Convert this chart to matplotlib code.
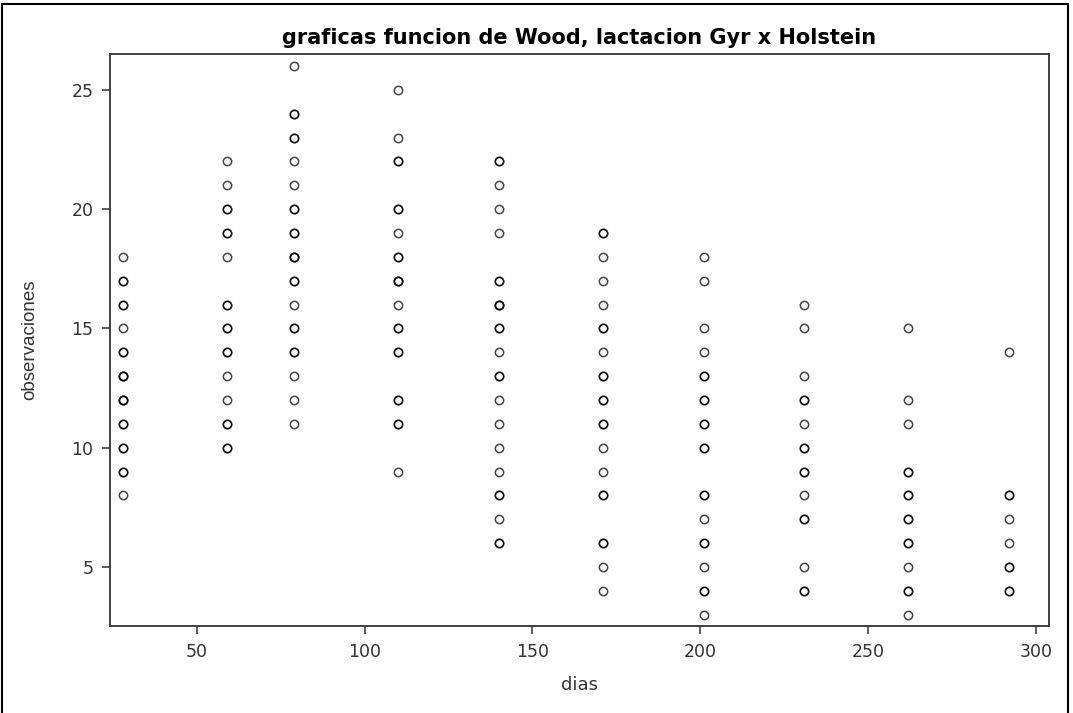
import matplotlib.pyplot as plt
from matplotlib.patches import Rectangle

plt.rcParams['font.family'] = ['DejaVu Sans']

# dias de lactacion de cada control
dias = [28, 59, 79, 110, 140, 171, 201, 231, 262, 292]

# observaciones por control (valores repetidos se ven mas oscuros)
obs = [
    [18, 17, 17, 16, 16, 15, 14, 14, 13, 13, 13, 12, 12, 12, 11, 11, 10, 10, 9, 9, 8],
    [22, 21, 20, 20, 19, 19, 18, 16, 16, 15, 15, 14, 14, 13, 12, 11, 11, 10, 10],
    [26, 24, 24, 23, 23, 22, 21, 20, 20, 19, 19, 18, 18, 18, 17, 17, 16, 15, 15,
     14, 14, 13, 12, 11],
    [25, 23, 22, 22, 20, 20, 19, 18, 18, 17, 17, 17, 16, 15, 15, 14, 14, 12, 12,
     11, 11, 9],
    [22, 22, 21, 20, 19, 17, 17, 16, 16, 16, 15, 15, 14, 13, 13, 12, 11, 10, 9,
     8, 8, 7, 6, 6],
    [19, 19, 18, 17, 16, 15, 15, 14, 13, 13, 12, 12, 11, 11, 10, 9, 8, 8, 6, 6, 5, 4],
    [18, 17, 15, 14, 13, 13, 12, 12, 11, 11, 10, 10, 8, 8, 7, 6, 6, 5, 4, 4, 3],
    [16, 15, 13, 12, 12, 11, 10, 10, 9, 9, 8, 7, 7, 5, 4, 4],
    [15, 12, 11, 9, 9, 8, 8, 7, 7, 6, 6, 5, 4, 4, 3],
    [14, 8, 8, 7, 6, 5, 5, 4, 4],
]

x = []
y = []
for d, vals in zip(dias, obs):
    x += [d] * len(vals)
    y += vals

fig = plt.figure(figsize=(10.73, 7.13), dpi=100)
ax = fig.add_axes([0.1025, 0.122, 0.8751, 0.8023])

for v in range(len(x)):
    ax.plot(x[v], y[v], 'o', ms=6, mfc='none', mec='black', mew=1.1, alpha=0.72)

ax.set_xlim(24.1, 303.9)
ax.set_ylim(2.53, 26.5)
ax.set_xticks([50, 100, 150, 200, 250, 300])
ax.set_yticks([5, 10, 15, 20, 25])

for s in ax.spines.values():
    s.set_linewidth(1.3)
    s.set_color('#333333')
ax.tick_params(direction='out', length=6, width=1.1, color='#333333',
               labelsize=12.5, labelcolor='#333333', pad=6)

ax.set_title('graficas funcion de Wood, lactacion Gyr x Holstein',
             fontsize=15, fontweight='bold', pad=7)
ax.set_xlabel('dias', fontsize=13, color='#333333', labelpad=11)
ax.set_ylabel('observaciones', fontsize=13.5, color='#333333',
              family=['Liberation Sans', 'DejaVu Sans'])
ax.yaxis.set_label_coords(-0.076, 0.5)

# marco exterior
fig.patches.append(Rectangle((2 / 1073, -0.05), 1066 / 1073, 1.05 - 4 / 713,
                             transform=fig.transFigure, fill=False,
                             edgecolor='black', linewidth=1.5))

fig.savefig('out.png', dpi=100)
